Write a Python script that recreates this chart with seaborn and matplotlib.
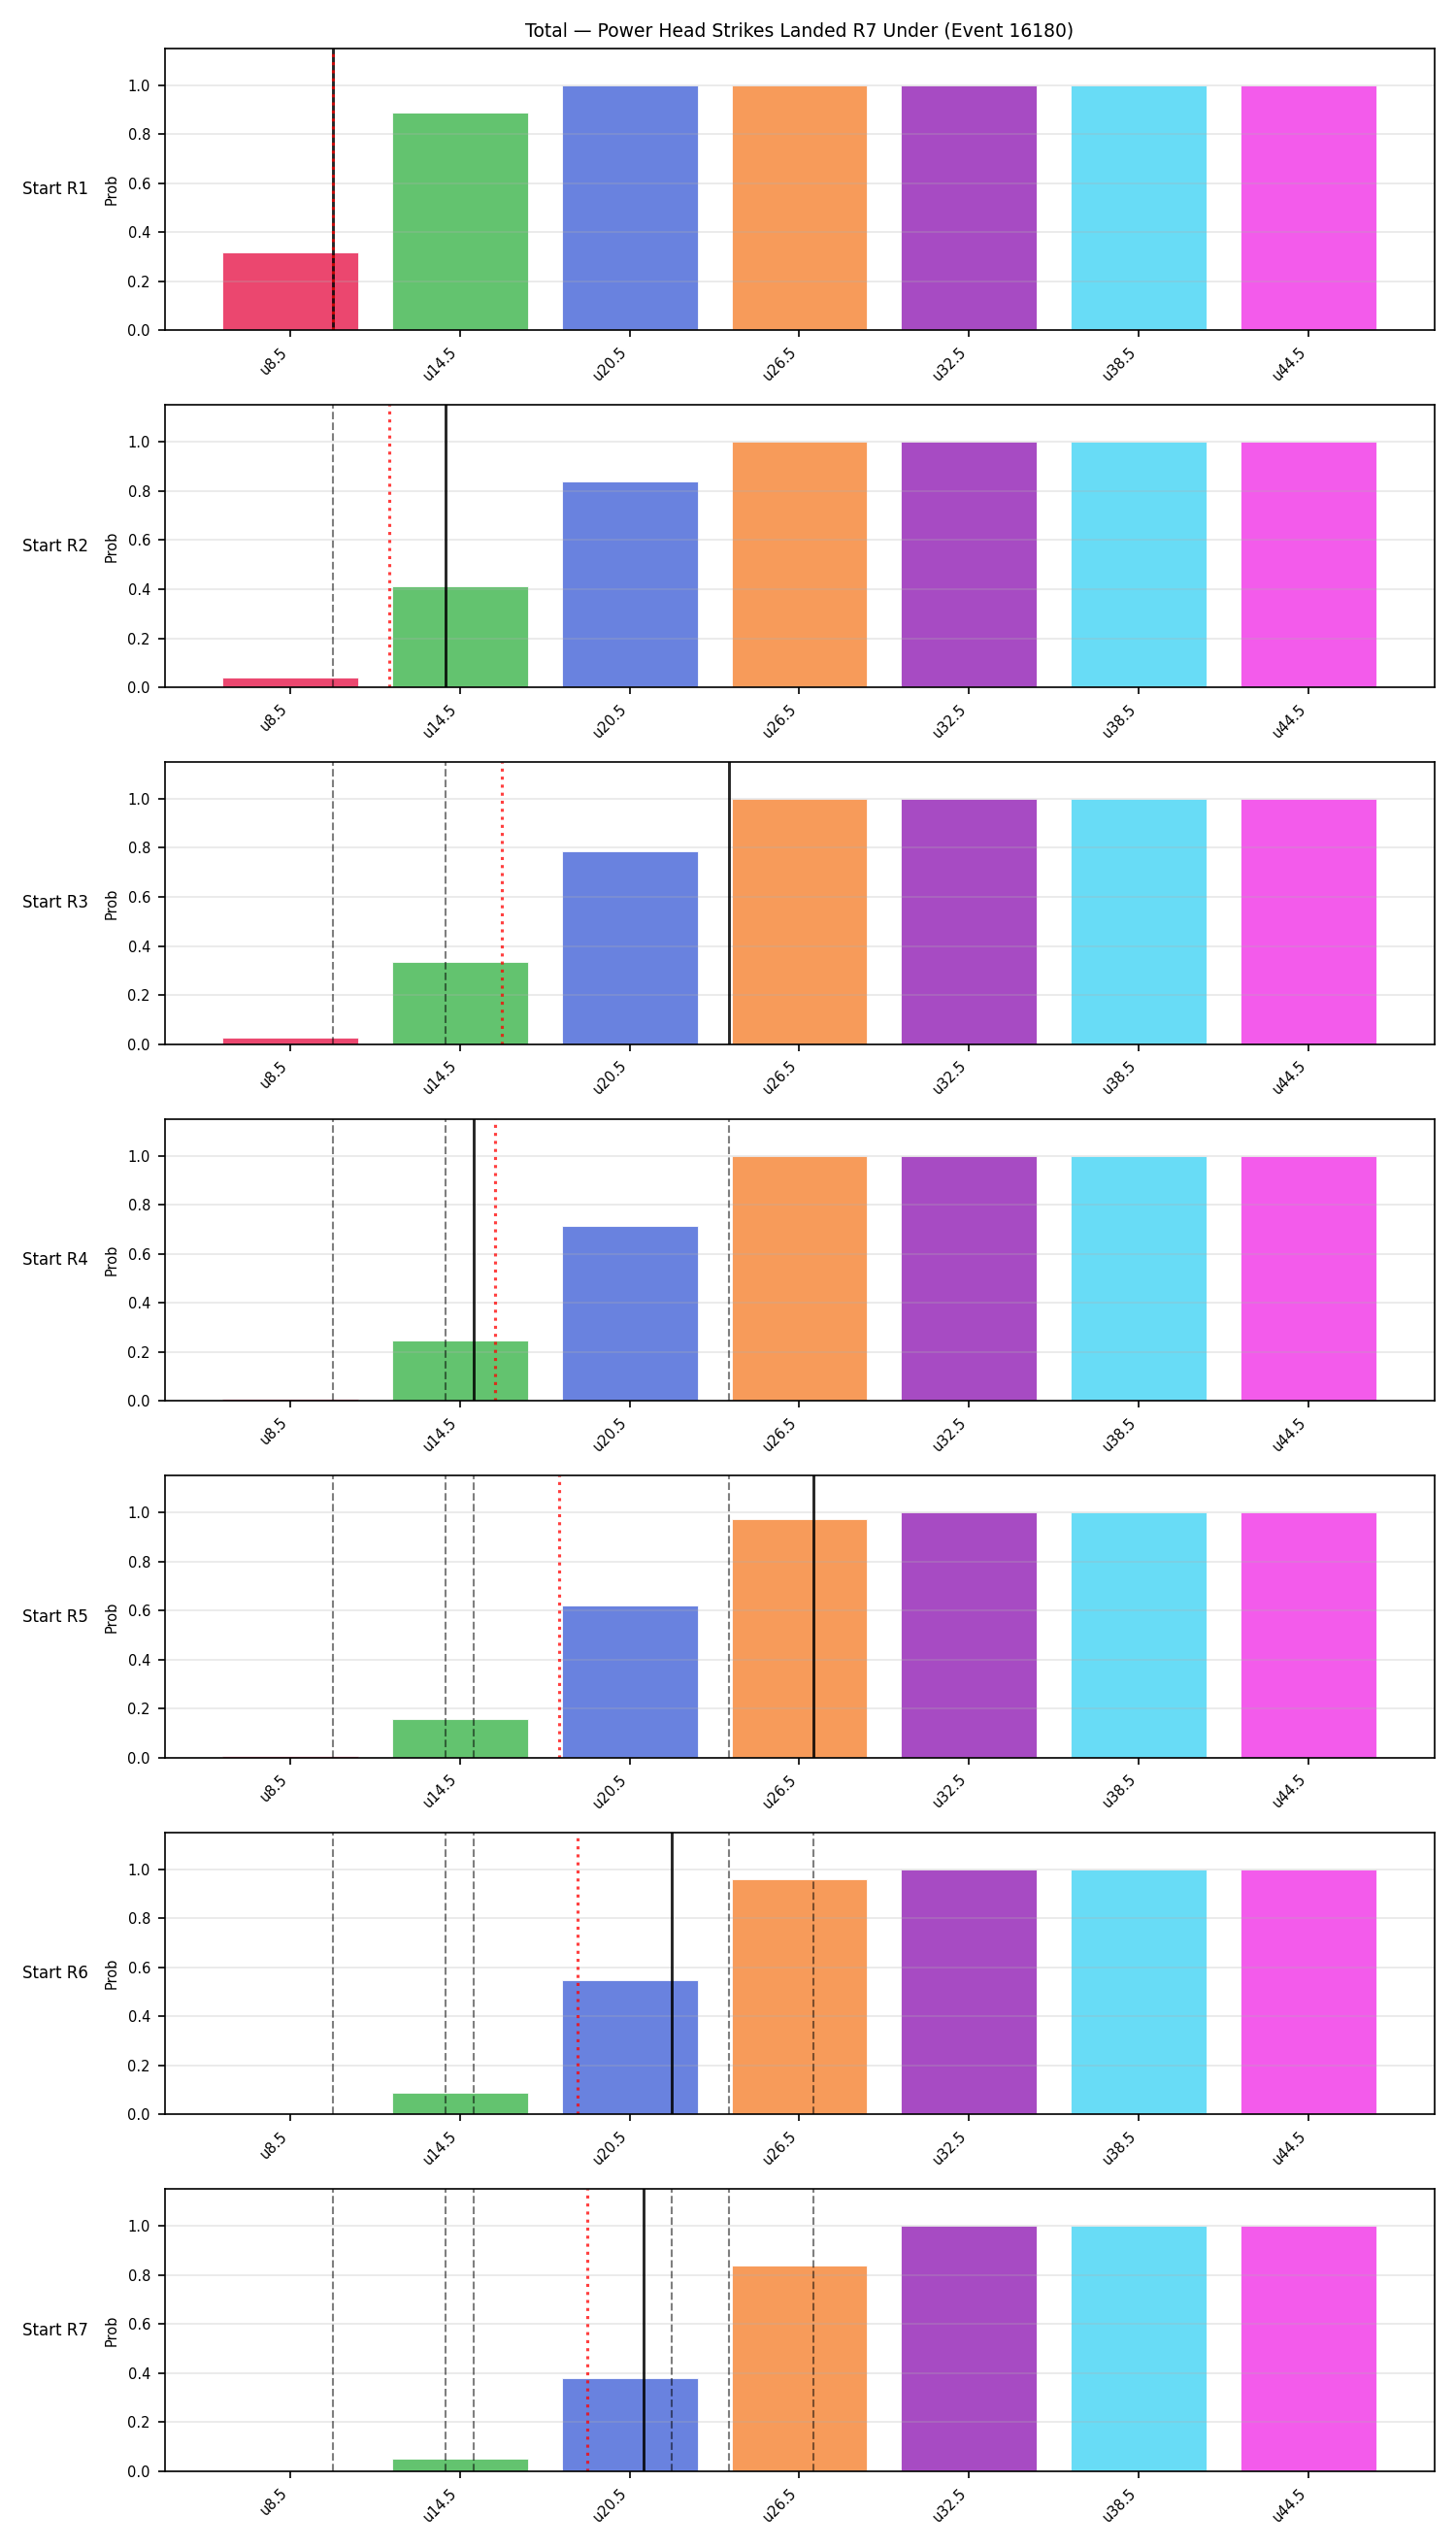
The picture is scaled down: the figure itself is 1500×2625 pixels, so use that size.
"""
Under-line probabilities per starting round, with per-round strike markers
"""
import numpy as np
import pandas as pd
import seaborn as sns
import matplotlib
matplotlib.use('Agg')
import matplotlib.pyplot as plt

# ==================== data ====================
lines = ["u8.5", "u14.5", "u20.5", "u26.5", "u32.5", "u38.5", "u44.5"]
line_values = [8.5, 14.5, 20.5, 26.5, 32.5, 38.5, 44.5]
rounds = ["Start R1", "Start R2", "Start R3", "Start R4", "Start R5", "Start R6", "Start R7"]

prob_r1 = [0.32, 0.888, 1.0, 1.0, 1.0, 1.0, 1.0]
prob_r2 = [0.038, 0.411, 0.841, 1.0, 1.0, 1.0, 1.0]
prob_r3 = [0.027, 0.336, 0.785, 1.0, 1.0, 1.0, 1.0]
prob_r4 = [0.01, 0.247, 0.713, 1.0, 1.0, 1.0, 1.0]
prob_r5 = [0.006, 0.157, 0.621, 0.974, 1.0, 1.0, 1.0]
prob_r6 = [0.0005, 0.087, 0.547, 0.96, 1.0, 1.0, 1.0]
prob_r7 = [0.0, 0.053, 0.378, 0.839, 1.0, 1.0, 1.0]
probs = [prob_r1, prob_r2, prob_r3, prob_r4, prob_r5, prob_r6, prob_r7]

# strikes landed in each round (black line) and running average (red dotted)
round_strikes = [10, 14, 24, 15, 27, 22, 21]
running_avg = [10, 12, 16, 15.75, 18, 18.67, 19]

colors = ["#e6194B", "#3cb44b", "#4363d8", "#f58231", "#911eb4", "#42d4f4", "#f032e6"]

TITLE = "Total \u2014 Power Head Strikes Landed R7 Under (Event 16180)"

# ==================== plot ====================
fig, axes = plt.subplots(len(rounds), 1, figsize=(10, 17.5), dpi=150)
fig.subplots_adjust(left=0.113, right=0.985, top=0.981, bottom=0.0301, hspace=0.265)


def to_pos(v):
    # strikes -> categorical bar position
    return np.interp(v, line_values, np.arange(len(line_values)))


for i, ax in enumerate(axes):
    df = pd.DataFrame({"line": lines, "prob": probs[i]})
    sns.barplot(data=df, x="line", y="prob", hue="line", palette=colors,
                saturation=1, alpha=0.8, edgecolor="white", linewidth=0.5,
                legend=False, ax=ax)

    # previous rounds
    for v in round_strikes[:i]:
        ax.axvline(to_pos(v), color="black", alpha=0.5, linestyle="--", linewidth=1)
    ax.axvline(to_pos(round_strikes[i]), color="black", alpha=0.85, linewidth=1.4)
    ax.axvline(to_pos(running_avg[i]), color="red", alpha=0.75, linestyle=":", linewidth=1.5)

    ax.set_xlim(-0.74, 6.74)
    ax.set_ylim(0, 1.15)
    ax.set_xlabel("")
    ax.set_ylabel("Prob", fontsize=7)
    ax.grid(True, axis="y", alpha=0.3)
    ax.tick_params(labelsize=7)
    plt.setp(ax.get_xticklabels(), rotation=45, ha="right")
    ax.text(-0.086, 0.5, rounds[i], transform=ax.transAxes,
            ha="center", va="center", fontsize=8)
    for s in ax.spines.values():
        s.set_visible(True)

axes[0].set_title(TITLE, fontsize=9)

plt.savefig("out.png", dpi=150)
plt.close("all")
